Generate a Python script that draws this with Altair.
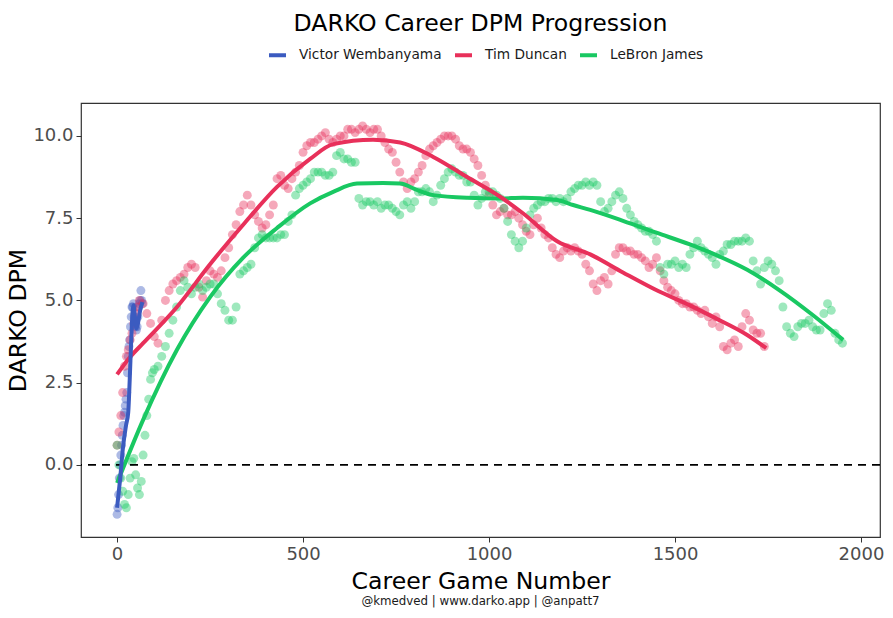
import altair as alt
import pandas as pd

FONT = "DejaVu Sans"
PLAYERS = ["Victor Wembanyama", "Tim Duncan", "LeBron James"]
COLORS = ["#3B5BC0", "#E8305A", "#19C862"]

# ---------------- scatter data (career game number -> DARKO DPM) ----------------
wemby_games = list(range(0, 70, 2))
wemby_dpm = [-1.5, -1.3, -0.9, -0.4, 0.0, 0.3, 0.6, 0.9, 1.2, 1.5,
             1.6, 1.8, 2.0, 2.2, 2.8, 3.3, 3.6, 3.8, 4.2, 4.5,
             4.8, 4.8, 4.9, 4.5, 4.3, 4.2, 4.1, 4.2, 4.5, 4.8,
             4.9, 5.0, 5.3, 5.0, 4.9]

duncan_games = list(range(0, 60, 5)) + list(range(60, 1750, 10))
duncan_dpm = [0.6, 1.0, 1.5, 2.2, 3.0, 3.3, 3.5, 3.8, 4.0, 4.3, 4.6, 4.8,
              5.0, 4.9, 4.6, 4.3, 3.9, 3.7, 4.4, 5.0, 5.3, 5.5,
              5.6, 5.7, 5.8, 6.0, 6.1, 6.0, 5.4, 5.1, 5.6, 5.9,
              5.8, 5.7, 5.9, 6.3, 6.6, 7.0, 7.3, 7.7, 7.9, 8.2,
              7.9, 7.6, 7.4, 7.2, 7.3, 7.6, 7.9, 8.7, 8.8, 8.5,
              8.4, 8.7, 8.9, 9.1, 9.5, 9.7, 9.8, 9.8, 9.9, 10.0,
              10.1, 9.9, 9.8, 9.9, 10.0, 10.0, 10.2, 10.2, 10.1, 10.2,
              10.3, 10.2, 10.1, 10.2, 10.2, 10.0, 9.8, 9.6, 9.5, 9.2,
              8.9, 8.6, 8.4, 8.6, 8.7, 8.9, 9.1, 9.4, 9.6, 9.7,
              9.8, 9.9, 10.0, 10.0, 10.0, 9.9, 9.7, 9.6, 9.6, 9.5,
              9.3, 9.1, 8.8, 8.5, 8.2, 7.9, 7.6, 7.7, 7.8, 7.6,
              7.6, 7.7, 7.5, 7.3, 7.1, 7.0, 7.3, 7.5, 7.2, 7.0,
              6.9, 6.6, 6.4, 6.3, 6.5, 6.6, 6.5, 6.6, 6.5, 6.4,
              6.1, 5.9, 5.5, 5.3, 5.6, 5.7, 5.5, 5.9, 6.4, 6.6,
              6.6, 6.5, 6.5, 6.4, 6.4, 6.3, 6.2, 6.0, 6.1, 6.3,
              5.9, 5.6, 5.4, 5.3, 5.2, 5.0, 4.9, 4.9, 4.8, 4.8,
              4.7, 4.6, 4.7, 4.5, 4.3, 4.5, 4.2, 3.6, 3.5, 3.7,
              3.8, 3.6, 4.2, 4.6, 4.4, 4.1, 4.0, 4.0, 3.6]

lebron_games = list(range(0, 100, 5)) + list(range(100, 1960, 10))
lebron_dpm = [0.6, 0.0, -0.4, -0.8, -1.2, -1.3, -0.9, -0.4, 0.1, 0.2,
              -0.3, -0.7, -0.9, -0.5, 0.3, 0.9, 1.5, 2.0, 2.6, 2.8,
              2.9, 3.0, 3.3, 3.6, 4.0, 4.4, 4.8, 5.3, 5.6, 5.4,
              5.2, 5.4, 5.5, 5.3, 5.4, 5.5, 5.5, 5.2, 4.9, 4.7,
              4.4, 4.4, 4.8, 5.8, 5.9, 6.0, 6.1, 6.6, 6.9, 7.0,
              6.9, 6.9, 6.9, 6.9, 7.0, 7.0, 7.4, 7.6, 8.2, 8.4,
              8.5, 8.6, 8.7, 8.9, 8.9, 8.9, 8.8, 8.8, 8.9, 9.4,
              9.5, 9.3, 9.3, 9.2, 9.2, 8.1, 7.9, 8.0, 8.0, 7.9,
              8.0, 7.8, 7.9, 7.9, 7.8, 7.7, 7.6, 7.9, 8.0, 7.8,
              8.0, 8.3, 8.3, 8.4, 8.3, 8.0, 8.2, 8.5, 8.7, 8.9,
              9.0, 8.9, 8.8, 8.8, 8.6, 8.6, 8.2, 7.9, 8.1, 8.3,
              8.3, 8.3, 8.2, 8.1, 7.8, 7.4, 7.0, 6.8, 6.6, 6.8,
              7.2, 7.6, 7.8, 7.9, 8.0, 8.0, 8.1, 8.1, 8.0, 8.1,
              8.0, 8.1, 8.3, 8.4, 8.5, 8.5, 8.6, 8.5, 8.6, 8.5,
              8.0, 7.7, 7.8, 8.0, 8.2, 8.3, 8.1, 7.8, 7.6, 7.4,
              7.3, 7.2, 7.1, 7.1, 7.0, 6.8, 6.0, 5.8, 6.1, 6.1,
              6.2, 6.0, 6.1, 6.0, 6.4, 6.6, 6.8, 6.6, 6.5, 6.4,
              6.3, 6.1, 6.4, 6.5, 6.7, 6.7, 6.8, 6.8, 6.8, 6.9,
              6.8, 6.2, 5.9, 5.5, 6.0, 6.2, 6.1, 5.9, 5.6, 4.8,
              4.2, 4.0, 3.9, 4.2, 4.3, 4.3, 4.4, 4.2, 4.1, 4.1,
              4.6, 4.9, 4.7, 4.0, 3.8, 3.7]

# ---------------- fitted smooth curves ----------------
wemby_fit_games = [0, 8, 16, 24, 30, 34, 38, 42, 44, 48, 52, 56, 62, 68]
wemby_fit_dpm = [-1.3, -0.45, 0.55, 1.2, 1.6, 2.6, 3.8, 4.7, 4.85, 4.5, 4.15, 4.3, 4.7, 4.95]

duncan_fit_games = [0, 35, 70, 161, 250, 339, 430, 519, 581, 688, 761, 850, 941,
                    1030, 1091, 1183, 1272, 1360, 1452, 1540, 1602, 1694, 1745]
duncan_fit_dpm = [2.75, 3.28, 3.7, 4.8, 6.1, 7.3, 8.45, 9.3, 9.75, 9.88, 9.8, 9.36, 8.75,
                  8.15, 7.65, 6.8, 6.4, 5.85, 5.3, 4.85, 4.5, 3.95, 3.55]

lebron_fit_games = [0, 70, 161, 250, 339, 430, 519, 581, 645, 715, 761, 806, 850, 941,
                    1030, 1091, 1183, 1226, 1272, 1360, 1452, 1540, 1602, 1694, 1782,
                    1871, 1952]
lebron_fit_dpm = [-0.55, 1.37, 3.5, 5.1, 6.3, 7.2, 7.95, 8.3, 8.55, 8.57, 8.55, 8.36, 8.2,
                  8.12, 8.1, 8.12, 8.05, 7.9, 7.75, 7.42, 7.05, 6.7, 6.42, 5.93, 5.3,
                  4.55, 3.8]

CAPTION = "@kmedved | www.darko.app | @anpatt7"


def frame(name, games, vals):
    return pd.DataFrame({"player": name, "game": games, "dpm": vals})


points = pd.concat([
    frame("Victor Wembanyama", wemby_games, wemby_dpm),
    frame("Tim Duncan", duncan_games, duncan_dpm),
    frame("LeBron James", lebron_games, lebron_dpm),
], ignore_index=True)

fit_w = frame("Victor Wembanyama", wemby_fit_games, wemby_fit_dpm)
fit_d = frame("Tim Duncan", duncan_fit_games, duncan_fit_dpm)
fit_l = frame("LeBron James", lebron_fit_games, lebron_fit_dpm)

W, H = 799, 434

xscale = alt.Scale(domain=[-97, 2051], nice=False, zero=False)
yscale = alt.Scale(domain=[-2.19, 11.0], nice=False, zero=False)
cscale = alt.Scale(domain=PLAYERS, range=COLORS)

xenc = alt.X("game:Q", scale=xscale,
             axis=alt.Axis(values=[0, 500, 1000, 1500, 2000], format="d",
                           title="Career Game Number", titlePadding=6))
yenc = alt.Y("dpm:Q", scale=yscale,
             axis=alt.Axis(values=[0, 2.5, 5, 7.5, 10], format=".1f", title="DARKO DPM",
                           titlePadding=2))

pts = alt.Chart(points).mark_circle(size=80, opacity=0.42).encode(
    x=xenc, y=yenc,
    color=alt.Color("player:N", scale=cscale, legend=None),
)

zero = alt.Chart(pd.DataFrame({"z": [0]})).mark_rule(
    color="black", strokeWidth=1.8, strokeDash=[8, 6]
).encode(y=alt.Y("z:Q", scale=yscale))


def fit_layer(df, legend):
    return alt.Chart(df).mark_line(strokeWidth=4, interpolate="monotone").encode(
        x=alt.X("game:Q", scale=xscale),
        y=alt.Y("dpm:Q", scale=yscale),
        color=alt.Color("player:N", scale=cscale, legend=legend),
    )


legend = alt.Legend(
    title=None, orient="none", direction="horizontal",
    legendX=186, legendY=-58.5,
    symbolType="stroke", symbolStrokeWidth=4, symbolSize=289,
    labelFont=FONT, labelFontSize=13.7, labelColor="#1a1a1a",
    labelOffset=11, columnPadding=5, symbolOpacity=1,
)

line_l = fit_layer(fit_l, None)
line_d = fit_layer(fit_d, None)
line_w = fit_layer(fit_w, legend)

caption = alt.Chart(pd.DataFrame({"t": [CAPTION]})).mark_text(
    font=FONT, fontSize=11.8, color="#1a1a1a", baseline="middle", align="center"
).encode(text="t:N", x=alt.value(W / 2), y=alt.value(498))

chart = alt.layer(pts, zero, line_l, line_d, line_w, caption).resolve_legend(
    color="independent"
).properties(
    width=W, height=H,
    title=alt.TitleParams("DARKO Career DPM Progression"),
    autosize=alt.AutoSizeParams(type="none"),
    padding={"left": 81, "top": 103, "right": 13, "bottom": 81},
).configure_axis(
    labelFont=FONT, titleFont=FONT, labelFontSize=18, titleFontSize=23.6,
    labelColor="#4D4D4D", titleColor="#000000", titleFontWeight="normal",
    tickColor="#333333", tickSize=5, tickWidth=1, grid=False, domain=False,
    labelPadding=3,
).configure_view(
    stroke="#333333", strokeWidth=1.2
).configure_title(
    font=FONT, fontSize=23.6, fontWeight="normal", color="#000000",
    anchor="middle", frame="group", offset=9,
)

chart.save("out.html", embed_options={"renderer": "svg", "actions": False})
